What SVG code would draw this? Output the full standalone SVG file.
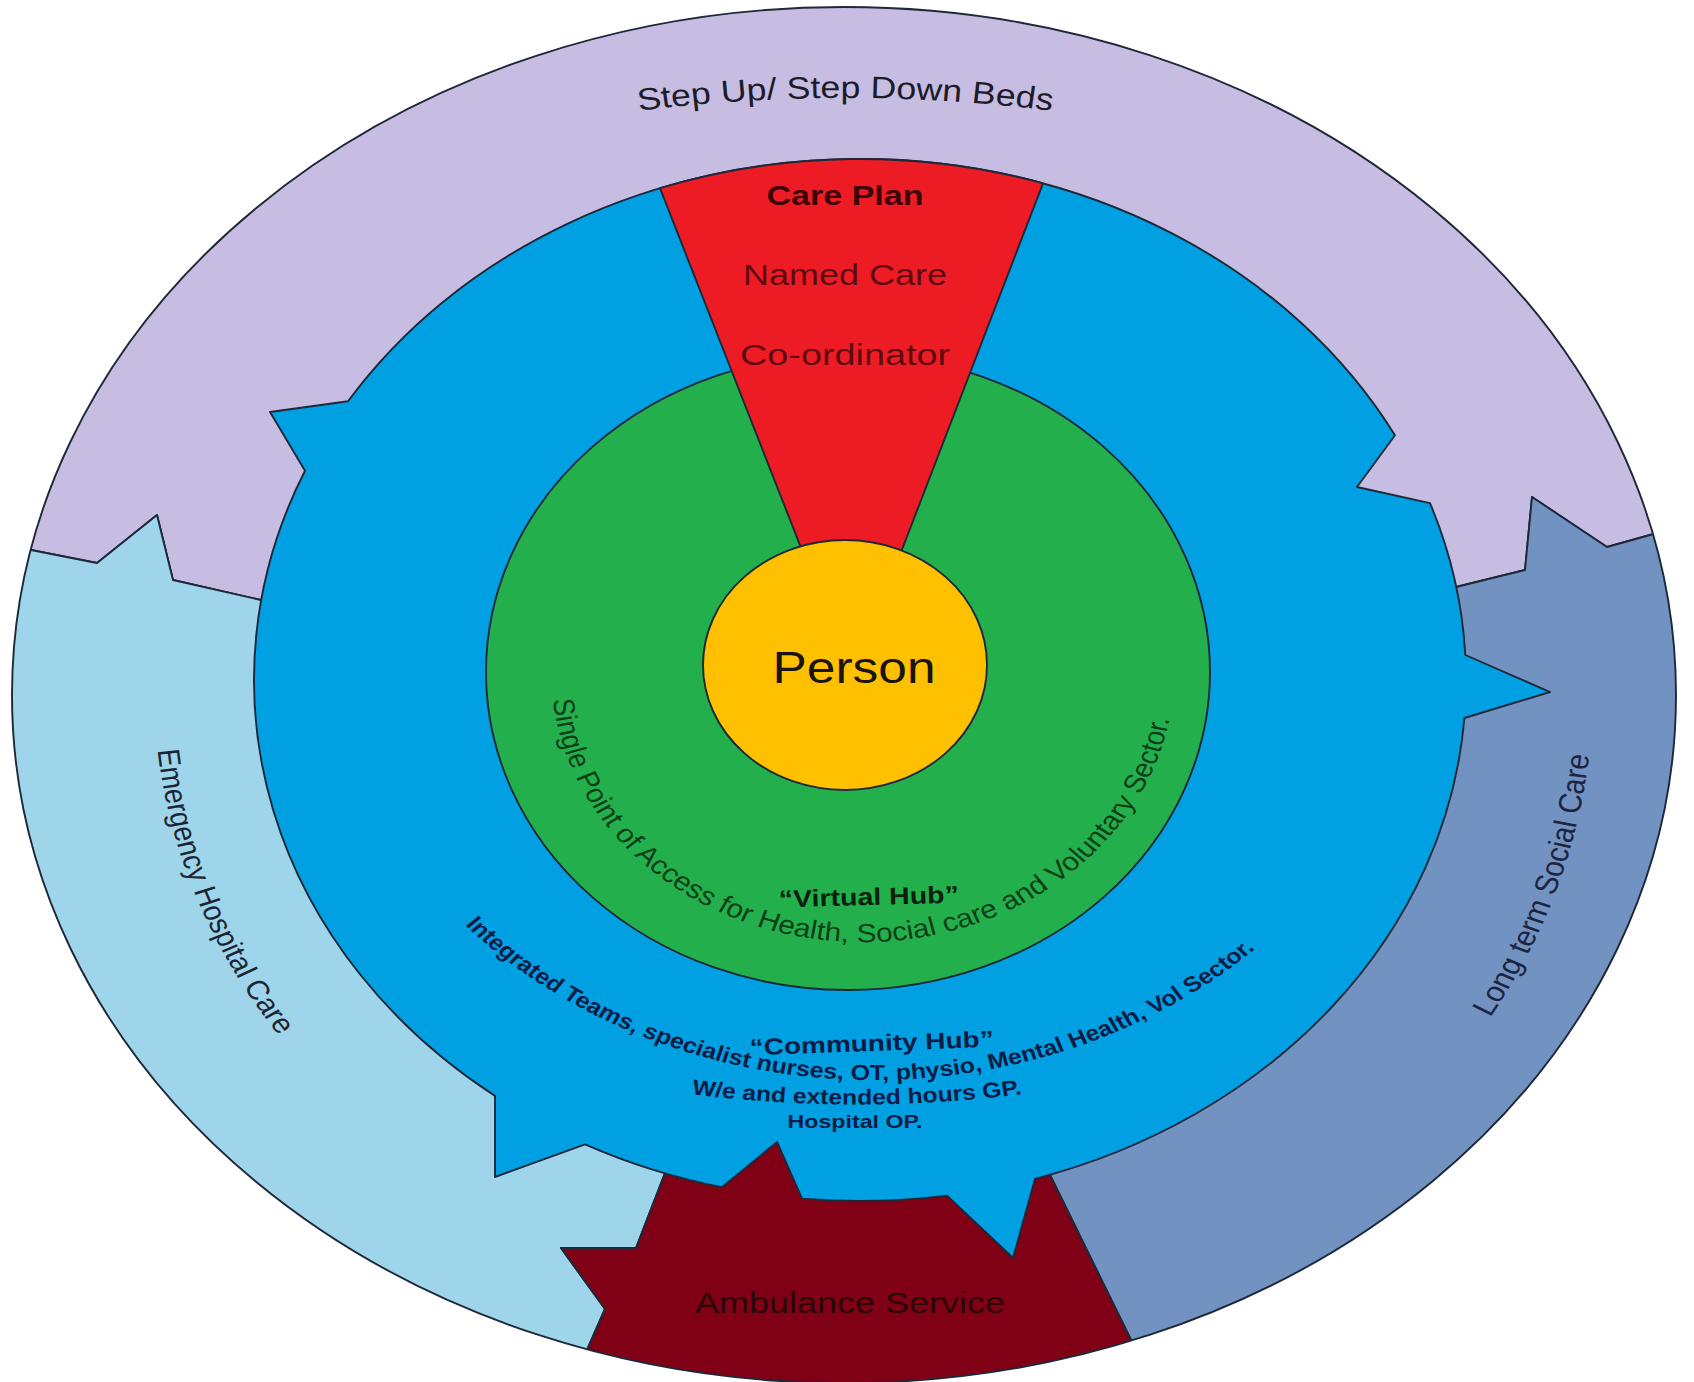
<svg xmlns="http://www.w3.org/2000/svg" width="1694" height="1382" viewBox="0 0 1694 1382">
<style>
.edge{stroke:#1d2838;stroke-width:1.9;stroke-linejoin:round}
.t{font-family:"Liberation Sans",Arial,sans-serif}
.b{font-weight:bold}
.navy{fill:#0b1c45}
</style>
<defs>
<clipPath id="outerClip"><ellipse cx="844" cy="695" rx="832" ry="688"/></clipPath>
<path id="p-stepup" d="M586,125.3 A1250,1250 0 0 1 1106,125.3"/>
<path id="p-emerg" d="M245.8,721.7 A605,605 0 0 0 461.1,1153.5"/>
<path id="p-longterm" d="M1385.6,1051.2 A646,646 0 0 0 1486.2,577.8"/>
<path id="p-spa" d="M590.7,689.9 A271,271 0 1 0 1127.9,623.9"/>
<path id="p-integ" d="M499,906.7 A485.2,485.2 0 0 0 1242.4,906.7"/>
<path id="p-we" d="M656,1084.3 A1000,1000 0 0 0 1056,1084.3"/>
</defs>
<rect width="1694" height="1382" fill="#ffffff"/>
<g id="outer-band" clip-path="url(#outerClip)">
  <g id="step-up-step-down-beds">
    <polygon class="edge" fill="#c7bde3" points="-40,536 31,550 97,563 157,515 173,580 261,600 420,650 1300,650 1456,587 1525,570 1532,497 1607,547 1650,535 1740,510 1740,-40 -40,-40"/>
    <g transform="matrix(1.15 0 0 1 -127.5 0)">
      <text class="t" font-size="31" fill="#1c1c28"><textPath href="#p-stepup" startOffset="50%" text-anchor="middle">Step Up/ Step Down Beds</textPath></text>
    </g>
  </g>
  <g id="emergency-hospital-care">
    <polygon class="edge" fill="#9ed5ea" points="-40,536 31,550 97,563 157,515 173,580 261,600 500,800 640,1100 665,1173 636,1248 561,1248 605,1309 587,1350 556,1420 -40,1420"/>
    <g transform="matrix(1.15 0 0 1 -127.5 0)">
      <text class="t" font-size="27" fill="#1c2535"><textPath href="#p-emerg" startOffset="28.5">Emergency Hospital Care</textPath></text>
    </g>
  </g>
  <g id="long-term-social-care">
    <polygon class="edge" fill="#7292c1" points="1456,587 1525,570 1532,497 1607,547 1650,535 1740,510 1740,1420 1170,1420 1131,1340 1050,1175 1250,1000 1380,700"/>
    <g transform="matrix(1.15 0 0 1 -127.5 0)">
      <text class="t" font-size="28" fill="#1c2540"><textPath href="#p-longterm" startOffset="39.5">Long term Social Care</textPath></text>
    </g>
  </g>
  <g id="ambulance-service">
    <polygon class="edge" fill="#800016" points="665,1173 636,1248 561,1248 605,1309 587,1350 556,1420 1170,1420 1131,1340 1050,1175 950,1120 700,1120"/>
    <text class="t" x="850" y="1313" font-size="30" fill="#2a0609" text-anchor="middle" textLength="310" lengthAdjust="spacingAndGlyphs">Ambulance Service</text>
  </g>
</g>
<g id="community-hub">
  <path class="edge" fill="#00a0e3" d="M860,159 A606,521 0 0 1 1395,435.3 L1357,487 L1430,503.1 A606,521 0 0 1 1465.3,655 L1550,692 L1464.4,718 A606,521 0 0 1 1035,1178.8 L1013,1258 L947,1195.6 A606,521 0 0 1 802,1198.6 L777,1142 L722,1187.3 A606,521 0 0 1 585,1144.3 L495,1177 L495,1095.9 A606,521 0 0 1 305,470.8 L270,412 L348,401.3 A606,521 0 0 1 860,159 Z"/>
  <g transform="matrix(1.15 0 0 1 -127.5 0)">
    <text class="t b navy" font-size="21.7"><textPath href="#p-integ" startOffset="24.6">Integrated Teams, specialist nurses, OT, physio, Mental Health, Vol Sector.</textPath></text>
    <text class="t b navy" font-size="21.5"><textPath href="#p-we" startOffset="50%" text-anchor="middle">W/e and extended hours GP.</textPath></text>
  </g>
  <text class="t b navy" x="872" y="1051" font-size="23" text-anchor="middle" textLength="244" lengthAdjust="spacingAndGlyphs" transform="rotate(-2 872 1051)">“Community Hub”</text>
  <text class="t b navy" x="855" y="1128" font-size="18.5" text-anchor="middle" textLength="135" lengthAdjust="spacingAndGlyphs">Hospital OP.</text>
</g>
<g id="virtual-hub">
  <ellipse class="edge" fill="#23b04c" cx="848" cy="672" rx="362" ry="318"/>
  <g transform="matrix(1.15 0 0 1 -127.5 0)">
    <text class="t" font-size="26" fill="#0e3f18"><textPath href="#p-spa" startOffset="10">Single Point of Access for Health, Social care and Voluntary Sector.</textPath></text>
  </g>
  <text class="t b" x="869" y="905" font-size="24" fill="#0a200e" text-anchor="middle" textLength="180" lengthAdjust="spacingAndGlyphs" transform="rotate(-1.5 869 905)">“Virtual Hub”</text>
</g>
<g id="care-plan">
  <path class="edge" fill="#ed1c24" d="M660,188.2 A606,521 0 0 1 1043,183.3 L882.6,600 L821.5,600 Z"/>
  <text class="t b" x="845" y="205" font-size="28" fill="#3b0508" text-anchor="middle" textLength="157" lengthAdjust="spacingAndGlyphs">Care Plan</text>
  <text class="t" x="845" y="285" font-size="29" fill="#5e0a12" text-anchor="middle" textLength="204" lengthAdjust="spacingAndGlyphs">Named Care</text>
  <text class="t" x="845" y="365" font-size="29" fill="#5e0a12" text-anchor="middle" textLength="210" lengthAdjust="spacingAndGlyphs">Co-ordinator</text>
</g>
<g id="person">
  <ellipse class="edge" fill="#ffc000" cx="845" cy="665" rx="142" ry="125"/>
  <text class="t" x="854" y="683" font-size="44" fill="#1a1410" text-anchor="middle" textLength="163" lengthAdjust="spacingAndGlyphs">Person</text>
</g>
<g id="connectors"/>
<g id="outer-outline">
  <ellipse class="edge" fill="none" cx="844" cy="695" rx="832" ry="688"/>
</g>
</svg>
